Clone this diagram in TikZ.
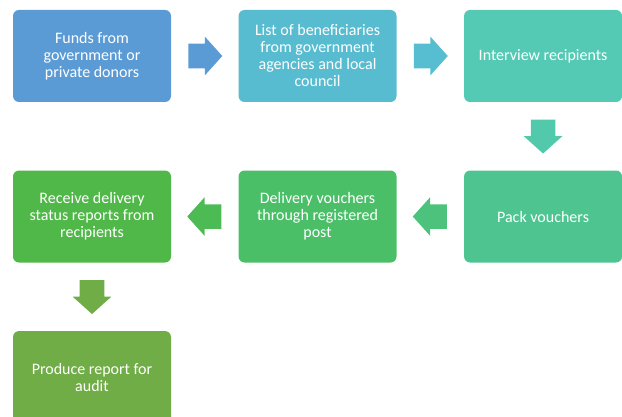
\documentclass[tikz,border=0pt]{standalone}
\usepackage{fontspec}
\setmainfont{Carlito}
\usepackage{tikz}
\usetikzlibrary{positioning,shapes.arrows}

\definecolor{boxA}{HTML}{5B9BD5}
\definecolor{boxB}{HTML}{58BCD0}
\definecolor{boxC}{HTML}{54CAB4}
\definecolor{boxD}{HTML}{4EC590}
\definecolor{boxE}{HTML}{4ABF68}
\definecolor{boxF}{HTML}{50B848}
\definecolor{boxG}{HTML}{70AD47}
\definecolor{arrA}{HTML}{5A9AD5}
\definecolor{arrB}{HTML}{57BDD1}
\definecolor{arrC}{HTML}{53C9AC}
\definecolor{arrD}{HTML}{4CC27C}
\definecolor{arrE}{HTML}{4CBB54}
\definecolor{arrF}{HTML}{70AD47}

\begin{document}
\begin{tikzpicture}[x=0.75pt, y=0.75pt, node distance={51pt and 50.25pt},
    stepbox/.style={rectangle, rounded corners=4.5pt, minimum width=118.5pt, minimum height=69pt,
                    inner sep=0pt, align=center, text=white, font=\fontsize{12}{12.75}\selectfont},
    blockarrow/.style={single arrow, draw=none, minimum width=0pt, minimum height=25.5pt,
                       single arrow head extend=5.25pt, single arrow tip angle=96, anchor=tail, pos=0.25},
    harrow/.style={blockarrow, inner xsep=0pt, inner ysep=9pt},
    varrow/.style={blockarrow, inner xsep=9pt, inner ysep=0pt},
    ]
\useasboundingbox (0,0) rectangle (622,-417);
% first row
\node[stepbox, fill=boxA] (funds) at (92,-56) {Funds from\\government or\\private donors};
\node[stepbox, fill=boxB, right=of funds] (lists) {List of beneficiaries\\from government\\agencies and local\\council};
\node[stepbox, fill=boxC, right=of lists] (interview) {Interview recipients};
% second row
\node[stepbox, fill=boxD, below=of interview] (pack) {Pack vouchers};
\node[stepbox, fill=boxE, left=of pack] (delivery) {Delivery vouchers\\through registered\\post};
\node[stepbox, fill=boxF, left=of delivery] (receive) {Receive delivery\\status reports from\\recipients};
% last row
\node[stepbox, fill=boxG, below=of receive] (audit) {Produce report for\\audit};
% block arrows
\path (funds) -- node[harrow, fill=arrA] (arrA) {} (lists);
\path (lists) -- node[harrow, fill=arrB] (arrB) {} (interview);
\path (interview) -- node[varrow, fill=arrC, shape border rotate=270] (arrC) {} (pack);
\path (pack) -- node[harrow, fill=arrD, shape border rotate=180] (arrD) {} (delivery);
\path (delivery) -- node[harrow, fill=arrE, shape border rotate=180] (arrE) {} (receive);
\path (receive) -- node[varrow, fill=arrF, shape border rotate=270] (arrF) {} (audit);
\end{tikzpicture}
\end{document}
